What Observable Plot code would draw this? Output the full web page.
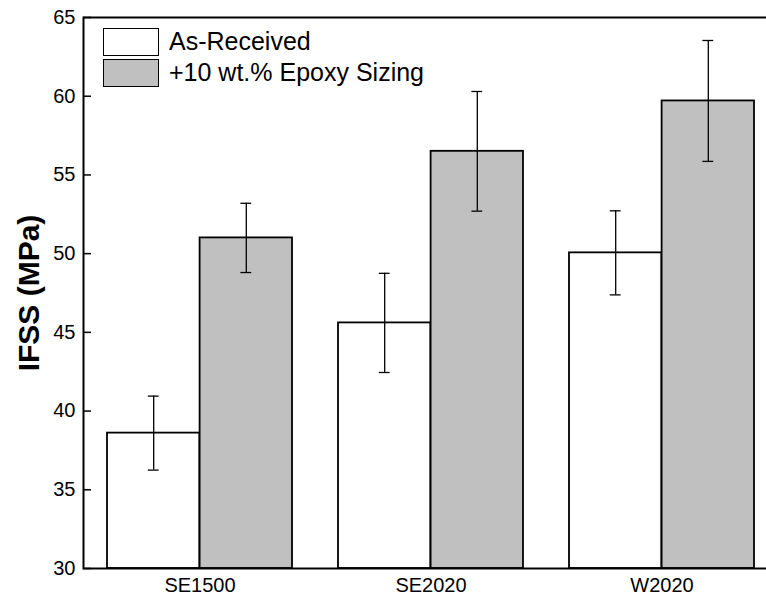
<!DOCTYPE html>
<html><head><meta charset="utf-8">
<script src="https://cdn.jsdelivr.net/npm/d3@7"></script>
<script src="https://cdn.jsdelivr.net/npm/@observablehq/plot@0.6"></script>
<style>
body{margin:0;background:#fff;font-family:"Liberation Sans",Arial,sans-serif;}
#wrap{position:relative;width:766px;height:595px;overflow:hidden;}
.legend{position:absolute;left:103px;top:26px;}
.item{display:flex;align-items:center;height:31px;}
.sw{width:56px;height:28px;box-sizing:border-box;border:1.6px solid #000;margin-right:10px;}
.lt{font-size:25px;color:#000;}
</style></head><body><div id="wrap"></div>
<script>
const categories = ["SE1500", "SE2020", "W2020"];
const series = ["As-Received", "+10 wt.% Epoxy Sizing"];
const asReceived = [38.6, 45.6, 50.05];
const asReceivedErr = [2.35, 3.15, 2.67];
const epoxy = [51.0, 56.5, 59.7];
const epoxyErr = [2.2, 3.8, 3.84];
const yTicks = [30, 35, 40, 45, 50, 55, 60, 65];
const yLabel = "IFSS (MPa)";
const colors = ["#ffffff", "#c0c0c0"];

const rows = categories.flatMap((c, i) => [
  {cat: c, series: series[0], value: asReceived[i], err: asReceivedErr[i], k: 0},
  {cat: c, series: series[1], value: epoxy[i], err: epoxyErr[i], k: 1}
]);
const base = yTicks[0];

const xOpts = {type: "band", domain: categories, range: [83, 777.5], paddingInner: 0.2, paddingOuter: 0.1};
const bw = Plot.scale({x: xOpts}).bandwidth;
const half = bw / 2;
const capInset = (bw - 11) / 2;

const marks = [];
series.forEach((s, k) => {
  const d = rows.filter(r => r.k === k);
  const dx = k === 0 ? -bw / 4 : bw / 4;
  marks.push(
    Plot.barY(d, {x: "cat", y1: base, y2: "value", fill: colors[k], stroke: "#000", strokeWidth: 1.8,
      insetLeft: k === 0 ? 0 : half, insetRight: k === 0 ? half : 0}),
    Plot.ruleX(d, {x: "cat", y1: r => r.value - r.err, y2: r => r.value + r.err, dx, stroke: "#000", strokeWidth: 1.3}),
    Plot.tickY(d, {x: "cat", y: r => r.value - r.err, dx, insetLeft: capInset, insetRight: capInset, stroke: "#000", strokeWidth: 1.3}),
    Plot.tickY(d, {x: "cat", y: r => r.value + r.err, dx, insetLeft: capInset, insetRight: capInset, stroke: "#000", strokeWidth: 1.3})
  );
});

const chart = Plot.plot({
  width: 766, height: 595,
  marginTop: 17, marginBottom: 27, marginLeft: 83, marginRight: -11.5,
  style: {fontFamily: "'Liberation Sans', Arial, sans-serif", background: "white", color: "black"},
  x: xOpts,
  y: {domain: [30, 65]},
  marks: [
    ...marks,
    Plot.frame({stroke: "#000", strokeWidth: 2}),
    Plot.axisY({ticks: yTicks, tickSize: 0, tickPadding: 8, fontSize: 20, label: null}),
    Plot.axisY({ticks: yTicks, tickSize: 8, dx: 8, tickFormat: () => "", label: null, strokeWidth: 1.5, stroke: "#000"}),
    Plot.axisX({tickSize: 0, tickPadding: 9, fontSize: 20, label: null}),
    Plot.text([yLabel], {frameAnchor: "left", textAnchor: "middle", rotate: -90, dx: -54, fontSize: 30, fontWeight: "bold", fill: "#000"})
  ]
});
const wrap = document.getElementById("wrap");
wrap.appendChild(chart);

const legend = document.createElement("div");
legend.className = "legend";
series.forEach((s, k) => {
  const it = document.createElement("div");
  it.className = "item";
  const sw = document.createElement("div");
  sw.className = "sw";
  sw.style.background = colors[k];
  const t = document.createElement("span");
  t.className = "lt";
  t.textContent = s;
  it.appendChild(sw); it.appendChild(t);
  legend.appendChild(it);
});
wrap.appendChild(legend);
</script></body></html>
